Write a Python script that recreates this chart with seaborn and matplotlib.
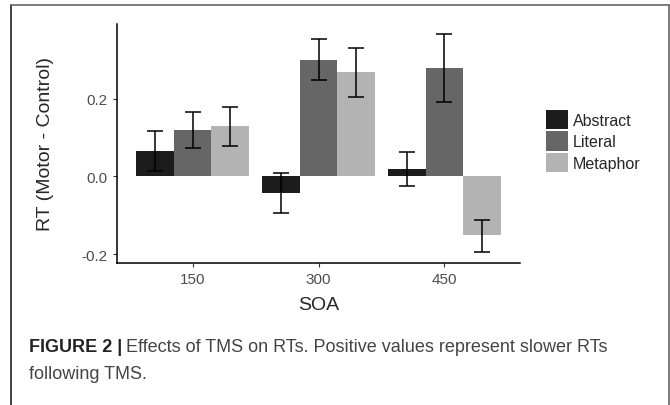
import numpy as np
import pandas as pd
import matplotlib
matplotlib.use("Agg")
import matplotlib.pyplot as plt
from matplotlib.lines import Line2D
import seaborn as sns

# values
soa = ["150", "300", "450"]
conditions = ["Abstract", "Literal", "Metaphor"]
abstract_mean = [0.066, -0.042, 0.018]
literal_mean = [0.119, 0.300, 0.279]
metaphor_mean = [0.129, 0.269, -0.152]
abstract_lo = [0.015, -0.095, -0.025]
abstract_hi = [0.117, 0.009, 0.062]
literal_lo = [0.073, 0.248, 0.193]
literal_hi = [0.165, 0.354, 0.366]
metaphor_lo = [0.078, 0.204, -0.195]
metaphor_hi = [0.179, 0.332, -0.112]
fill_colors = ["#1c1c1c", "#666666", "#b3b3b3"]

means = [abstract_mean, literal_mean, metaphor_mean]
lows = [abstract_lo, literal_lo, metaphor_lo]
highs = [abstract_hi, literal_hi, metaphor_hi]

rows = []
for cond, m in zip(conditions, means):
    for s, v in zip(soa, m):
        rows.append({"SOA": s, "RT": v, "Condition": cond})
df = pd.DataFrame(rows)

sns.set_style("white")
plt.rcParams['font.family'] = ['Liberation Sans', 'DejaVu Sans']

W, H = 670, 406
fig = plt.figure(figsize=(W / 100, H / 100), dpi=100)
ax = fig.add_axes([117 / W, 1 - 264 / H, (520 - 117) / W, (264 - 25) / H])

sns.barplot(data=df, x="SOA", y="RT", hue="Condition", order=soa,
            hue_order=conditions, palette=fill_colors, width=0.9,
            errorbar=None, linewidth=0, saturation=1, ax=ax)

# error bars centred on the bars seaborn drew
for cont, m, lo, hi in zip(ax.containers, means, lows, highs):
    xs = [b.get_x() + b.get_width() / 2 for b in cont]
    m = np.array(m)
    yerr = [m - np.array(lo), np.array(hi) - m]
    ax.errorbar(xs, m, yerr=yerr, fmt="none", ecolor="black",
                elinewidth=1.1, capsize=6, capthick=1.1, zorder=5)

ax.set_xlim(-0.6, 2.6)
ax.set_ylim(-0.223, 0.393)
ax.set_yticks([-0.2, 0.0, 0.2])
ax.set_yticklabels(["-0.2", "0.0", "0.2"])
ax.tick_params(axis="both", labelsize=11, labelcolor="#4d4d4d",
               length=3, width=0.8, color="#333333", pad=3.5, left=True, bottom=True)
for sp in ["top", "right"]:
    ax.spines[sp].set_visible(False)
for sp in ["left", "bottom"]:
    ax.spines[sp].set_color("black")
    ax.spines[sp].set_linewidth(1.1)
ax.set_xlabel("SOA", fontsize=14, labelpad=7)
ax.set_ylabel("RT (Motor - Control)", fontsize=14, labelpad=20)

ax.get_legend().remove()
handles, labels = ax.get_legend_handles_labels()
fig.legend(handles, labels, loc="upper left",
           bbox_to_anchor=(546 / W, 1 - 111 / H), frameon=False,
           fontsize=11.5, handlelength=1.4, handleheight=1.5,
           labelspacing=0.12, handletextpad=0.3, borderpad=0,
           borderaxespad=0)

# caption
fig.canvas.draw()
r = fig.canvas.get_renderer()
t1 = fig.text(29 / W, 1 - 352 / H, "FIGURE 2 |", fontsize=13, fontweight="bold",
              color="#222222", va="baseline")
bb = t1.get_window_extent(r)
fig.text(bb.x1 / W + 4 / W, 1 - 352 / H,
         "Effects of TMS on RTs. Positive values represent slower RTs",
         fontsize=13, color="#444444", va="baseline")
fig.text(29 / W, 1 - 379 / H, "following TMS.", fontsize=13,
         color="#444444", va="baseline")

# page frame
fig.add_artist(Line2D([11 / W, 11 / W], [0, 1 - 6 / H], color="#222222", lw=1.2))
fig.add_artist(Line2D([11 / W, 669 / W], [1 - 6 / H, 1 - 6 / H], color="#666666", lw=1.2))
fig.add_artist(Line2D([669 / W, 669 / W], [0, 1 - 6 / H], color="#666666", lw=1.2))

fig.savefig("out.png", dpi=100)
